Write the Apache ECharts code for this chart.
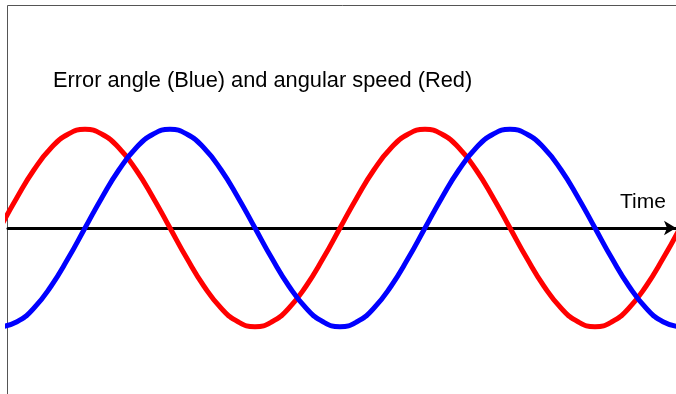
<!DOCTYPE html>
<html>
<head>
<meta charset="utf-8">
<script src="https://cdn.jsdelivr.net/npm/echarts@6/dist/echarts.min.js"></script>
<style>
html, body { margin: 0; padding: 0; background: #fff; }
#main { width: 676px; height: 394px; }
</style>
</head>
<body>
<div id="main"></div>
<script>
// time positions (px units along the axis)
var times = [0, 17, 34, 51, 68, 85, 102, 119, 136, 153,
    170, 187, 204, 221, 238, 255, 272, 289, 306, 323,
    340, 357, 374, 391, 408, 425, 442, 459, 476, 493,
    510, 527, 544, 561, 578, 595, 612, 629, 646, 663, 680];
// angular speed (red)
var speed = [0, 0.31, 0.59, 0.81, 0.95, 1, 0.95, 0.81, 0.59, 0.31,
    0, -0.31, -0.59, -0.81, -0.95, -1, -0.95, -0.81, -0.59, -0.31,
    0, 0.31, 0.59, 0.81, 0.95, 1, 0.95, 0.81, 0.59, 0.31,
    0, -0.31, -0.59, -0.81, -0.95, -1, -0.95, -0.81, -0.59, -0.31, 0];
// error angle (blue)
var angle = [-1, -0.95, -0.81, -0.59, -0.31, 0, 0.31, 0.59, 0.81, 0.95,
    1, 0.95, 0.81, 0.59, 0.31, 0, -0.31, -0.59, -0.81, -0.95,
    -1, -0.95, -0.81, -0.59, -0.31, 0, 0.31, 0.59, 0.81, 0.95,
    1, 0.95, 0.81, 0.59, 0.31, 0, -0.31, -0.59, -0.81, -0.95, -1];

function pairs(xs, ys) {
    var out = [];
    for (var i = 0; i < xs.length; i++) {
        out.push([xs[i], ys[i]]);
    }
    return out;
}

var font = 'Liberation Sans, Arial, sans-serif';
var myChart = echarts.init(document.getElementById('main'));
var option = {
    backgroundColor: '#fff',
    animation: false,
    title: [{
        text: 'Error angle (Blue) and angular speed (Red)',
        left: 53,
        top: 70,
        padding: 0,
        textStyle: { color: '#000', fontFamily: font, fontSize: 21.8, fontWeight: 'normal' }
    }, {
        text: 'Time',
        left: 620,
        top: 192,
        padding: 0,
        textStyle: { color: '#000', fontFamily: font, fontSize: 21, fontWeight: 'normal' }
    }],
    graphic: [{
        type: 'rect',
        silent: true,
        shape: { x: 7.5, y: 5.5, width: 800, height: 500 },
        style: { fill: 'none', stroke: '#555', lineWidth: 1 }
    }],
    grid: {
        left: 8,
        right: 0,
        top: 70,
        height: 316
    },
    xAxis: {
        type: 'value',
        min: 8,
        max: 676,
        axisLine: {
            onZero: true,
            symbol: ['none', 'arrow'],
            symbolSize: [11, 12],
            lineStyle: { color: '#000', width: 3 }
        },
        axisTick: { show: false },
        axisLabel: { show: false },
        splitLine: { show: false }
    },
    yAxis: {
        type: 'value',
        min: -1.6,
        max: 1.6,
        show: false
    },
    series: [{
        name: 'Angular speed',
        type: 'line',
        smooth: true,
        showSymbol: false,
        data: pairs(times, speed),
        lineStyle: { color: '#ff0000', width: 5 },
        itemStyle: { color: '#ff0000' }
    }, {
        name: 'Error angle',
        type: 'line',
        smooth: true,
        showSymbol: false,
        data: pairs(times, angle),
        lineStyle: { color: '#0000ff', width: 5 },
        itemStyle: { color: '#0000ff' }
    }]
};
myChart.setOption(option);
</script>
</body>
</html>
